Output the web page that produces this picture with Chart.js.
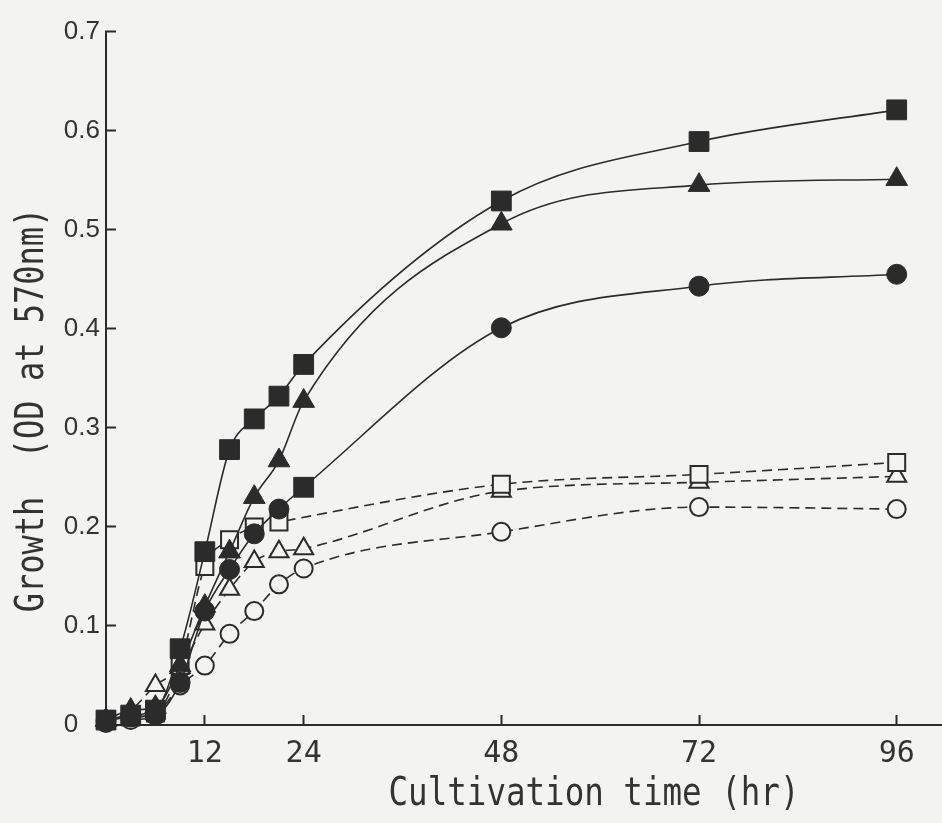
<!DOCTYPE html>
<html>
<head>
<meta charset="utf-8">
<title>Growth</title>
<script src="https://cdn.jsdelivr.net/npm/chart.js@4.4.1/dist/chart.umd.min.js"></script>
<style>
    body { margin: 0; background: #f3f3f2; }
    canvas { display: block; background: #f3f3f2; }
</style>
</head>
<body>
<canvas id="growthChart" width="942" height="823"></canvas>
<script>
// cultivation time (hr)
const times = [0, 3, 6, 9, 12, 15, 18, 21, 24, 48, 72, 96];

// OD at 570nm, filled symbols (solid lines)
const filledSquares   = [0.005, 0.010, 0.015, 0.077, 0.175, 0.278, 0.309, 0.332, 0.364, 0.529, 0.589, 0.621];
const filledTriangles = [0.005, 0.015, 0.018, 0.060, 0.120, 0.175, 0.230, 0.267, 0.327, 0.506, 0.545, 0.551];
const filledCircles   = [0.004, 0.008, 0.010, 0.043, 0.115, 0.157, 0.193, 0.218, 0.240, 0.401, 0.443, 0.455];

// open symbols (dashed lines); no open square read at 24 hr
const openSquares   = [0.005, 0.008, 0.012, 0.060, 0.160, 0.187, 0.200, 0.205, null, 0.243, 0.253, 0.265];
const openTriangles = [0.005, 0.015, 0.040, 0.058, 0.102, 0.137, 0.165, 0.175, 0.178, 0.236, 0.245, 0.251];
const openCircles   = [0.002, 0.005, 0.010, 0.040, 0.060, 0.092, 0.115, 0.142, 0.158, 0.195, 0.220, 0.218];

const xTickValues = [12, 24, 48, 72, 96];
const yTickValues = [0, 0.1, 0.2, 0.3, 0.4, 0.5, 0.6, 0.7];

const xTitle = 'Cultivation time (hr)';
const yTitle = 'Growth  (OD at 570nm)';

const ink = '#2b2b2b';
const paper = '#f3f3f2';
const monoFont = '"DejaVu Sans Mono", monospace';

function toPoints(values) {
    return times.map((t, i) => ({ x: t, y: values[i] }));
}

function makeDataset(label, values, style, radius, filled) {
    return {
        label: label,
        data: toPoints(values),
        borderColor: ink,
        borderWidth: 1.6,
        borderDash: filled ? [] : [10, 6],
        cubicInterpolationMode: 'monotone',
        spanGaps: true,
        pointStyle: style,
        pointRadius: radius,
        pointBackgroundColor: filled ? ink : paper,
        pointBorderColor: ink,
        pointBorderWidth: filled ? 1 : 2,
        clip: false
    };
}

// the filled-circle curve has a square marker at 24 hr in the original
const circleSquareIndex = times.indexOf(24);

// draws the two axis titles in a tall narrow face, like the typeset figure
const axisTitlesPlugin = {
    id: 'axisTitles',
    afterDraw(chart) {
        const ctx = chart.ctx;
        ctx.save();
        ctx.fillStyle = '#333';
        ctx.font = '32.5px ' + monoFont;
        ctx.textAlign = 'center';
        ctx.textBaseline = 'alphabetic';

        ctx.save();
        ctx.translate(594, 805);
        ctx.scale(1, 1.22);
        ctx.fillText(xTitle, 0, 0);
        ctx.restore();

        ctx.font = '32px ' + monoFont;
        ctx.save();
        ctx.translate(43, 410);
        ctx.rotate(-Math.PI / 2);
        ctx.scale(1, 1.22);
        ctx.fillText(yTitle, 0, 0);
        ctx.restore();

        ctx.restore();
    }
};

function createChart() {
    const ctx = document.getElementById('growthChart').getContext('2d');

    const circles = makeDataset('filled circle', filledCircles, 'circle', 10, true);
    circles.pointStyle = c => c.dataIndex === circleSquareIndex ? 'rect' : 'circle';
    circles.pointRadius = c => c.dataIndex === circleSquareIndex ? 14 : 10;

    return new Chart(ctx, {
        type: 'line',
        data: {
            datasets: [
                makeDataset('filled square', filledSquares, 'rect', 14, true),
                makeDataset('filled triangle', filledTriangles, 'triangle', 12.5, true),
                circles,
                makeDataset('open square', openSquares, 'rect', 12, false),
                makeDataset('open triangle', openTriangles, 'triangle', 11, false),
                makeDataset('open circle', openCircles, 'circle', 9, false)
            ]
        },
        options: {
            responsive: false,
            animation: false,
            layout: {
                autoPadding: false,
                padding: { top: 24, right: 0, bottom: 0, left: 0 }
            },
            plugins: {
                legend: { display: false },
                tooltip: { enabled: false }
            },
            scales: {
                x: {
                    type: 'linear',
                    position: 'bottom',
                    min: 0,
                    max: 101.5,
                    afterBuildTicks: scale => {
                        scale.ticks = xTickValues.map(v => ({ value: v }));
                    },
                    afterFit: scale => {
                        scale.height = 98;
                        // axis line runs to the right edge, no room kept for labels
                        scale.paddingLeft = 0;
                        scale.paddingRight = 0;
                    },
                    grid: {
                        drawOnChartArea: false,
                        tickLength: -10,
                        tickWidth: 2,
                        tickColor: ink
                    },
                    border: { color: ink, width: 2 },
                    ticks: {
                        padding: 21,
                        color: '#333',
                        font: { family: monoFont, size: 30 },
                        autoSkip: false,
                        maxRotation: 0,
                        callback: value => String(value)
                    }
                },
                y: {
                    type: 'linear',
                    position: 'left',
                    min: 0,
                    max: 0.7,
                    afterBuildTicks: scale => {
                        scale.ticks = yTickValues.map(v => ({ value: v }));
                    },
                    afterFit: scale => {
                        scale.width = 106;
                    },
                    grid: {
                        drawOnChartArea: false,
                        tickLength: -10,
                        tickWidth: 2,
                        tickColor: ink
                    },
                    border: { color: ink, width: 2 },
                    ticks: {
                        padding: 16,
                        color: '#333',
                        font: { family: '"Liberation Sans", Arial, sans-serif', size: 26 },
                        // zero sits left like the other labels' first digit
                        callback: value => value === 0 ? '0   ' : value.toFixed(1)
                    }
                }
            }
        },
        plugins: [axisTitlesPlugin]
    });
}

let chart = createChart();
</script>
</body>
</html>
